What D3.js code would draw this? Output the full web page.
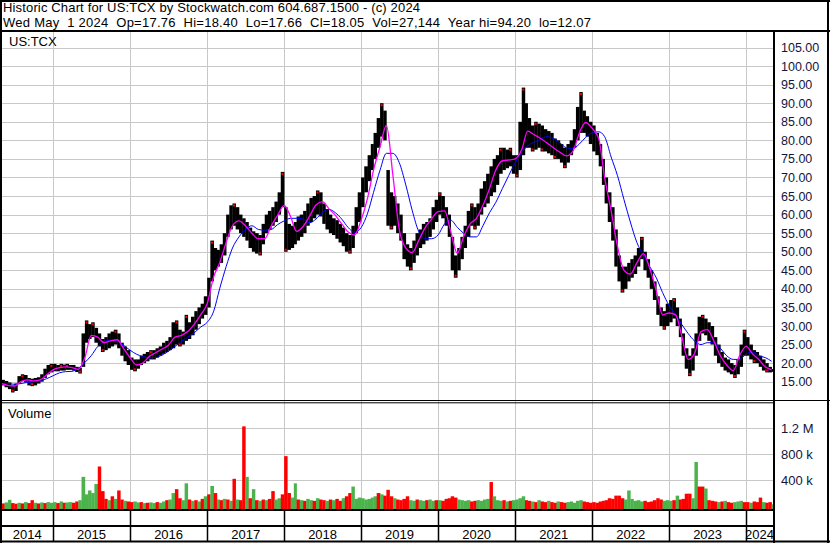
<!DOCTYPE html>
<html>
<head>
<meta charset="utf-8">
<script src="https://cdn.jsdelivr.net/npm/d3@7"></script>
<style>
body { margin: 0; background: #fff; }
svg { display: block; font-family: Arial, "Liberation Sans", sans-serif; }
</style>
</head>
<body>
<div id="graph"></div>
<script>
// texts
var title1 = "Historic Chart for US:TCX by Stockwatch.com 604.687.1500 - (c) 2024";
var title2 = "Wed May  1 2024  Op=17.76  Hi=18.40  Lo=17.66  Cl=18.05  Vol=27,144  Year hi=94.20  lo=12.07";
var symbol = "US:TCX";

var years = [2014, 2015, 2016, 2017, 2018, 2019, 2020, 2021, 2022, 2023, 2024];
var priceTicks = [15, 20, 25, 30, 35, 40, 45, 50, 55, 60, 65, 70, 75, 80, 85, 90, 95, 100, 105];
var volTicks = [400000, 800000, 1200000];
var volTickLabels = ["400 k", "800 k", "1.2 M"];

// half-month bars from May 2014 : high / low
var highs = [
  15.5,15.2,14.8,14.0,14.5,16.5,17.0,16.8,16.0,15.8,16.0,16.2,17.0,18.5,19.5,19.8,
  19.8,19.5,19.8,19.6,19.8,19.5,19.5,19.0,18.8,28.0,31.5,30.5,31.0,29.5,28.0,26.5,27.0,28.0,28.5,29.0,28.0,25.5,24.5,23.5,
  21.5,21.0,21.0,22.0,22.5,23.0,23.5,23.5,24.0,24.5,25.5,26.0,27.0,31.0,31.5,29.0,28.5,33.0,31.0,32.5,34.0,35.0,36.0,38.0,
  43.0,53.0,51.0,50.5,52.0,55.0,60.0,62.5,63.0,62.0,60.0,59.0,58.0,56.5,55.5,55.0,54.5,57.5,60.0,61.0,62.0,63.5,66.0,71.5,
  62.0,57.5,57.0,58.0,59.5,60.0,61.0,63.0,64.5,65.0,66.5,66.0,63.0,61.5,60.0,59.0,58.5,57.5,56.5,55.0,54.5,57.0,62.0,66.0,
  70.0,73.0,76.0,79.0,82.0,86.0,90.0,88.0,72.0,66.0,65.0,63.0,60.0,55.0,52.0,51.0,53.0,55.0,56.0,57.5,58.0,59.0,62.0,64.0,
  66.0,65.0,62.0,60.0,54.0,49.0,51.0,54.0,57.0,61.0,63.0,62.0,63.0,67.0,69.0,71.0,73.0,75.0,76.0,78.0,78.0,77.5,78.0,76.0,
  76.0,85.0,94.2,90.0,86.0,84.0,85.0,84.5,84.0,83.0,82.5,82.0,80.5,80.0,79.0,78.0,79.0,80.0,83.0,89.0,93.0,88.0,86.5,85.0,
  84.0,82.0,79.0,75.0,70.0,66.0,62.0,56.0,49.0,46.0,46.0,47.0,48.0,49.0,51.0,54.0,50.0,48.0,45.0,42.0,38.0,35.0,34.0,36.0,
  37.0,37.5,35.0,32.0,28.0,24.0,22.0,24.0,28.0,32.5,33.0,32.0,31.0,30.0,27.0,25.0,23.0,21.5,21.0,20.0,19.5,21.0,25.0,29.0,
  27.0,25.0,23.5,23.0,22.0,21.0,20.0,19.0,18.4
];
var lows = [
  14.0,13.5,13.0,12.1,12.5,14.5,15.2,14.8,14.0,13.8,14.0,14.5,15.0,16.0,17.0,17.5,
  17.8,17.8,18.0,18.0,18.2,18.2,18.0,17.6,17.2,19.0,25.5,26.5,27.0,25.5,24.5,23.0,23.5,24.0,24.5,25.0,24.0,22.0,20.5,19.5,
  18.2,17.8,18.5,19.5,20.0,20.5,21.0,21.0,21.5,22.0,22.5,23.0,23.5,24.0,25.0,24.5,25.0,26.0,26.5,27.5,29.0,30.5,32.0,33.0,
  35.0,42.0,45.0,46.0,47.0,49.0,54.0,56.0,57.0,56.0,55.0,54.0,53.0,51.0,50.0,49.5,49.0,52.0,55.0,56.0,57.0,58.0,60.0,62.0,
  50.0,50.5,51.0,52.0,53.0,54.0,55.0,57.0,58.0,59.0,60.0,59.5,57.5,56.0,55.0,54.5,53.5,52.5,51.5,50.0,49.5,51.0,55.0,58.0,
  62.0,66.0,69.0,72.0,75.0,78.0,81.0,80.0,57.0,56.0,57.0,55.0,53.0,48.0,46.0,45.0,47.0,49.0,51.0,52.0,53.0,54.0,56.0,58.0,
  60.0,59.0,57.0,54.0,45.0,43.0,45.0,48.0,51.0,54.0,57.0,56.0,57.0,60.0,62.0,63.0,65.0,66.0,68.0,71.0,72.0,72.5,73.0,71.0,
  70.0,72.0,76.0,78.0,78.0,77.0,77.5,78.0,77.0,77.0,76.5,76.0,75.0,75.0,74.0,72.5,74.0,76.0,78.0,80.0,82.0,82.0,81.0,79.0,
  77.0,76.0,73.0,68.0,63.0,58.0,53.0,46.0,42.0,39.0,40.0,42.0,43.0,44.0,46.0,48.0,45.0,43.0,40.0,37.0,33.0,30.0,29.0,30.0,
  31.0,32.0,30.0,27.0,22.0,18.5,16.5,18.0,22.0,26.0,28.0,27.5,26.0,25.0,22.0,20.0,19.0,18.0,17.5,17.0,16.0,17.0,19.0,22.0,
  22.0,21.0,20.0,20.0,19.0,18.0,17.5,17.5,17.66
];

// half-month volumes (thousands) and direction (1 = up / green, 0 = down / red)
var volumes = [
  40,55,95,45,35,50,40,60,45,90,50,40,55,45,60,50,
  60,45,70,50,55,60,50,70,90,450,180,240,200,340,610,230,110,90,150,110,240,100,80,70,
  60,70,55,60,45,50,55,45,60,50,70,90,100,200,260,120,90,350,100,80,90,70,110,150,
  180,310,200,100,90,110,100,80,420,100,90,1230,450,120,260,90,80,100,90,110,230,100,120,180,
  770,200,130,350,100,90,80,110,90,80,120,100,90,80,100,90,110,80,120,150,200,300,110,130,
  120,100,110,130,150,200,180,160,250,150,120,100,90,110,150,90,80,100,90,80,90,100,80,90,
  90,80,110,120,150,130,100,90,80,90,70,80,90,80,100,110,370,150,90,80,90,70,80,90,
  100,120,150,90,80,70,60,90,70,60,80,60,50,70,60,50,60,70,50,80,90,70,60,50,
  60,50,70,80,90,120,110,160,160,120,100,240,110,80,90,70,80,60,70,90,120,100,80,90,
  80,90,160,100,110,190,190,120,680,300,300,270,90,80,70,60,70,80,60,50,60,70,80,60,
  60,50,70,60,130,60,50,60,27
];
var volDir = [
  0,1,1,0,0,1,0,1,0,0,1,0,1,0,1,1,
  1,0,1,0,1,1,0,0,1,1,1,1,1,1,0,0,0,1,0,1,0,0,1,0,
  0,1,1,0,1,0,1,1,0,1,1,0,1,1,0,0,1,1,0,1,0,1,0,1,
  0,1,0,1,0,1,0,1,0,1,0,0,1,0,1,0,1,0,1,0,0,1,1,0,
  0,0,1,1,0,1,0,1,1,0,1,0,0,1,0,1,0,0,1,0,0,1,1,1,
  1,1,1,1,1,0,1,0,0,0,1,0,0,0,0,1,1,0,1,1,0,1,1,0,
  1,0,0,0,0,0,1,1,1,1,0,0,1,1,1,1,0,1,1,1,0,1,0,1,
  1,1,1,0,0,1,0,1,0,0,1,0,0,1,0,0,1,1,1,1,1,0,0,0,
  0,0,0,0,0,0,0,0,0,0,1,1,1,1,1,1,0,0,0,0,0,0,1,1,
  1,0,1,0,0,0,0,1,1,0,0,1,0,0,0,1,0,1,0,0,1,1,1,0,
  0,1,0,0,0,1,0,0,1
];

// monthly moving averages from May 2014 (magenta = short, blue = long)
var maShort = [
  14.5,14.0,13.8,15.0,15.5,15.2,15.5,16.8,
  18.2,18.8,19.0,18.8,18.3,21.5,27.5,27.0,25.5,26.0,26.3,24.0,
  21.5,19.5,20.0,21.8,22.8,23.8,24.8,27.0,27.5,28.5,30.5,33.0,
  36.0,43.3,47.0,52.5,57.0,58.3,57.0,55.0,53.5,53.5,57.0,59.8,
  62.5,59.4,55.5,56.8,59.5,62.6,63.5,61.6,59.8,57.5,55.3,54.5,
  58.5,64.5,72.0,78.3,84.0,70.5,56.0,51.0,49.8,53.0,56.5,58.8,
  60.8,61.0,55.5,49.6,54.0,57.5,59.0,62.5,67.0,72.0,74.5,74.7,
  75.0,77.5,82.5,81.5,80.5,79.3,78.0,76.8,75.8,77.0,82.0,84.8,
  83.2,80.5,70.0,61.0,51.5,45.0,44.0,47.0,49.5,45.5,39.5,33.0,
  33.5,33.0,27.5,21.0,22.5,28.5,29.0,26.0,22.0,19.5,18.0,22.0,
  24.5,22.5,21.0,19.0,18.2
];
var maLong = [
  14.5,14.5,14.3,14.5,14.8,15.0,15.3,15.8,
  16.6,17.4,17.7,17.8,18.6,20.2,22.0,24.5,25.8,26.2,26.0,24.8,
  23.5,22.4,21.8,21.4,21.5,22.2,23.2,24.5,25.9,27.0,28.2,29.7,
  31.0,34.0,40.0,46.0,51.0,54.0,56.0,57.0,56.0,55.8,56.0,57.3,
  58.3,59.0,59.0,58.8,57.8,58.8,60.6,61.4,60.5,58.8,56.5,55.2,
  56.5,60.4,66.0,72.0,76.5,76.5,74.0,68.0,61.0,55.5,53.5,53.5,
  54.5,57.5,58.5,56.6,55.0,54.0,54.0,57.0,60.5,63.3,67.0,70.5,
  74.0,76.8,78.5,79.5,80.3,81.0,80.5,79.3,78.0,77.8,79.0,80.8,
  82.0,82.3,81.0,75.5,70.5,64.0,58.0,52.5,49.0,46.0,43.0,39.0,
  35.5,33.0,30.5,28.0,26.0,25.0,25.5,25.5,24.0,22.0,21.0,21.0,
  22.5,23.0,22.0,21.5,20.5
];

function halfMonth(i) { return new Date(2014, 4 + Math.floor(i / 2), i % 2 ? 16 : 1); }
function month(m) { return new Date(2014, 4 + m, 1); }

var W = 830, H = 543;
var plotL = 2, plotR = 773;
var priceTop = 32, priceBot = 400;
var volTop = 403, volBot = 509.5;
var textCol = "#14143c";
var gridCol = "#c8c8c8";

var x = d3.scaleTime()
  .domain([new Date(2014, 4, 1), new Date(2024, 4, 1)])
  .range([1.4, 771.6]);
var y = d3.scaleLinear().domain([15, 105]).range([381.7, 47.5]);
var yv = d3.scaleLinear().domain([0, 1200000]).range([506, 428.3]);

var svg = d3.select("#graph").append("svg")
  .attr("width", W)
  .attr("height", H);

svg.append("rect").attr("width", W).attr("height", H).attr("fill", "#fff");

var defs = svg.append("defs");
defs.append("clipPath").attr("id", "clipPrice").append("rect")
  .attr("x", plotL).attr("y", priceTop).attr("width", plotR - plotL).attr("height", priceBot - priceTop);
defs.append("clipPath").attr("id", "clipVol").append("rect")
  .attr("x", plotL).attr("y", volTop).attr("width", plotR - plotL).attr("height", volBot - volTop);

// header (two tight lines, stretched to the reference width)
svg.append("text").attr("x", 3).attr("y", 12)
  .style("font-size", "13px").style("white-space", "pre").attr("fill", "#000")
  .attr("textLength", 417).attr("lengthAdjust", "spacing")
  .text(title1);
svg.append("text").attr("x", 3).attr("y", 27)
  .style("font-size", "13px").style("white-space", "pre").attr("fill", "#000")
  .attr("textLength", 588).attr("lengthAdjust", "spacing")
  .text(title2);

// grid
var yearStarts = years.slice(1).map(function(yr) { return new Date(yr, 0, 1); });

svg.append("g").selectAll("line").data(priceTicks).enter().append("line")
  .attr("x1", plotL).attr("x2", plotR)
  .attr("y1", function(d) { return Math.round(y(d)) + 0.5; })
  .attr("y2", function(d) { return Math.round(y(d)) + 0.5; })
  .attr("stroke", gridCol);
svg.append("g").selectAll("line").data(volTicks).enter().append("line")
  .attr("x1", plotL).attr("x2", plotR)
  .attr("y1", function(d) { return Math.round(yv(d)) + 0.5; })
  .attr("y2", function(d) { return Math.round(yv(d)) + 0.5; })
  .attr("stroke", gridCol);
svg.append("g").selectAll("line").data(yearStarts).enter().append("line")
  .attr("x1", function(d) { return Math.round(x(d)) + 0.5; })
  .attr("x2", function(d) { return Math.round(x(d)) + 0.5; })
  .attr("y1", priceTop).attr("y2", volBot)
  .attr("stroke", gridCol);

// price bars
var idx = d3.range(highs.length);
var bw = function(i) { return Math.max(1, x(halfMonth(i + 1)) - x(halfMonth(i))); };

var price = svg.append("g").attr("clip-path", "url(#clipPrice)");
price.selectAll(".bar").data(idx).enter().append("rect")
  .attr("class", "bar")
  .attr("x", function(i) { return x(halfMonth(i)); })
  .attr("width", function(i) { return bw(i) + 0.3; })
  .attr("y", function(i) { return y(highs[i]); })
  .attr("height", function(i) { return Math.max(1, y(lows[i]) - y(highs[i])); })
  .attr("fill", "#000");

// red marks on local turns
var turns = [];
idx.forEach(function(i) {
  if (i > 0 && i < highs.length - 1) {
    if (highs[i] > highs[i - 1] && highs[i] >= highs[i + 1]) turns.push([i, highs[i]]);
    if (lows[i] < lows[i - 1] && lows[i] <= lows[i + 1]) turns.push([i, lows[i]]);
  }
});
price.selectAll(".turn").data(turns).enter().append("rect")
  .attr("class", "turn")
  .attr("x", function(d) { return x(halfMonth(d[0])) + bw(d[0]) / 2 - 1; })
  .attr("y", function(d) { return y(d[1]) + (d[1] === highs[d[0]] ? 1 : -3); })
  .attr("width", 2).attr("height", 2)
  .attr("fill", "#ff0000");

var line = d3.line()
  .x(function(d, m) { return x(month(m)); })
  .y(function(d) { return y(d); })
  .curve(d3.curveMonotoneX);

price.append("path").datum(maLong)
  .attr("d", line).attr("fill", "none").attr("stroke", "#0000ff").attr("stroke-width", 1);
price.append("path").datum(maShort)
  .attr("d", line).attr("fill", "none").attr("stroke", "#ff00ff").attr("stroke-width", 1.3);

// volume bars
var vol = svg.append("g").attr("clip-path", "url(#clipVol)");
vol.selectAll("rect").data(idx).enter().append("rect")
  .attr("x", function(i) { return x(halfMonth(i)); })
  .attr("width", function(i) { return bw(i) + 0.3; })
  .attr("y", function(i) { return yv(volumes[i] * 1000); })
  .attr("height", function(i) { return volBot - yv(volumes[i] * 1000); })
  .attr("fill", function(i) { return volDir[i] ? "#4cb34c" : "#ff0000"; });

// panel labels
svg.append("text").attr("x", 9).attr("y", 46).style("font-size", "13px").attr("fill", "#000").text(symbol);
svg.append("text").attr("x", 8).attr("y", 418).style("font-size", "13px").attr("fill", "#000").text("Volume");

// right axes
var pAxis = d3.axisRight(y).tickValues(priceTicks).tickSize(0).tickPadding(6)
  .tickFormat(d3.format(".2f"));
var gp = svg.append("g").attr("transform", "translate(775,0)").call(pAxis);
gp.select(".domain").remove();
gp.selectAll("text").style("font-size", "12.5px").style("font-family", "Arial, 'Liberation Sans', sans-serif").attr("fill", textCol);

var vAxis = d3.axisRight(yv).tickValues(volTicks).tickSize(0).tickPadding(6)
  .tickFormat(function(d, i) { return volTickLabels[i]; });
var gv = svg.append("g").attr("transform", "translate(775,0)").call(vAxis);
gv.select(".domain").remove();
gv.selectAll("text").style("font-size", "13px").style("font-family", "Arial, 'Liberation Sans', sans-serif").attr("fill", textCol);

// frame lines
function hl(x1, x2, yy, w) {
  svg.append("line").attr("x1", x1).attr("x2", x2).attr("y1", yy).attr("y2", yy)
    .attr("stroke", "#000").attr("stroke-width", w);
}
function vl(xx, y1, y2, w) {
  svg.append("line").attr("x1", xx).attr("x2", xx).attr("y1", y1).attr("y2", y2)
    .attr("stroke", "#000").attr("stroke-width", w);
}
hl(0, W, 1, 2);
hl(0, W, 31, 2);
hl(0, W, 400.5, 1);
hl(0, plotR, 402.8, 1);
hl(0, plotR, 510, 2);
hl(0, plotR, 526, 2);
hl(0, W, 541.5, 2);
vl(1, 0, H, 2);
vl(828, 0, H, 2);
vl(774, 31, H, 2);

// year separators and labels
var bounds = [x.range()[0]].concat(yearStarts.map(x)).concat([plotR]);
svg.append("g").selectAll("line").data(yearStarts).enter().append("line")
  .attr("x1", function(d) { return Math.round(x(d)) + 0.5; })
  .attr("x2", function(d) { return Math.round(x(d)) + 0.5; })
  .attr("y1", 510).attr("y2", 541)
  .attr("stroke", "#000").attr("stroke-width", 1.5);
svg.append("g").selectAll("text").data(years).enter().append("text")
  .attr("x", function(d, i) { return (bounds[i] + bounds[i + 1]) / 2; })
  .attr("y", 539)
  .attr("text-anchor", "middle")
  .style("font-size", "13px")
  .attr("fill", "#000")
  .text(function(d) { return d; });
</script>
</body>
</html>
